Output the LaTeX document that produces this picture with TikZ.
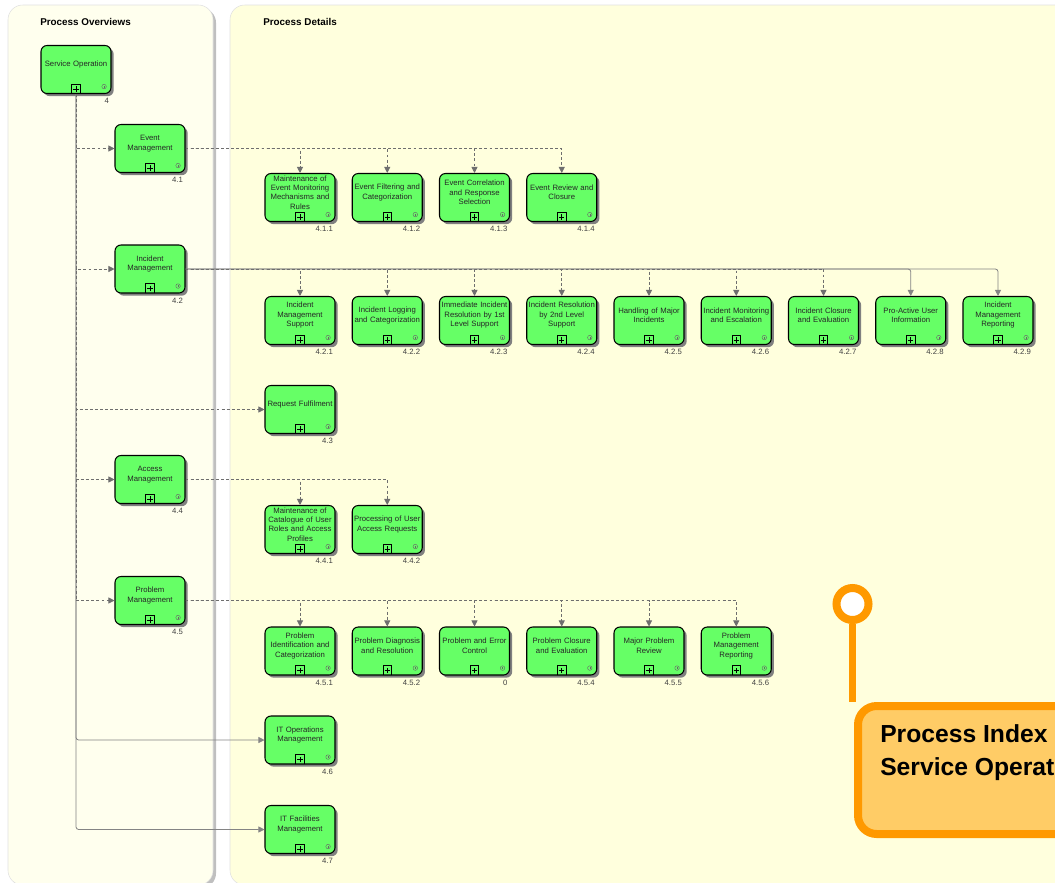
\documentclass[tikz,border=0pt]{standalone}
\usepackage{fontspec}
\setmainfont{Liberation Sans}
\usetikzlibrary{arrows.meta,shadows}

\definecolor{procgreen}{HTML}{66FF66}
\definecolor{laneA}{HTML}{FFFFEE}
\definecolor{laneB}{HTML}{FFFFDD}
\definecolor{flowgray}{HTML}{6E6E6E}
\definecolor{calledge}{HTML}{FF9900}
\definecolor{callfill}{HTML}{FFCC66}

\tikzset{
	proc/.style={draw, line width=.8pt, fill=procgreen, rounded corners=4.5pt,
		minimum width=52.5pt, minimum height=36pt, inner sep=0pt,
		drop shadow={shadow xshift=2pt,shadow yshift=-2pt,fill=black!50,opacity=1},
		path picture={
			\draw[sharp corners, line width=.6pt] ([xshift=-3.2pt]path picture bounding box.south) rectangle ([xshift=3.2pt,yshift=7pt]path picture bounding box.south);
			\draw[sharp corners, line width=.5pt] ([xshift=-2pt,yshift=3.5pt]path picture bounding box.south) -- ([xshift=2pt,yshift=3.5pt]path picture bounding box.south);
			\draw[sharp corners, line width=.5pt] ([yshift=1.5pt]path picture bounding box.south) -- ([yshift=5.5pt]path picture bounding box.south);
			\draw[black!60, line width=.3pt] ([xshift=-5.2pt,yshift=5.2pt]path picture bounding box.south east) circle (1.7pt);
			\draw[sharp corners, black!60, line width=.3pt] ([xshift=-5.2pt,yshift=4.4pt]path picture bounding box.south east) -- ([xshift=-5.2pt,yshift=6pt]path picture bounding box.south east);
		}},
	proctext/.style={font=\fontsize{5.8}{7.1}\selectfont, align=center, text width=58pt, inner sep=0pt, yshift=3.8pt, text=black!85},
	procnum/.style={font=\fontsize{5.8}{7}\selectfont, text=black!75, anchor=north east, inner sep=0pt, yshift=-3.2pt, xshift=-1.8pt},
	lanehead/.style={font=\fontsize{7.4}{9}\selectfont\bfseries, anchor=west, inner sep=0pt},
	flowdash/.style={draw=flowgray, line width=.6pt, dash pattern=on 2.2pt off 1.6pt, -{Triangle[length=4.5pt,width=4.5pt]}},
	flowsolid/.style={draw=flowgray!85, line width=.6pt, rounded corners=2pt, -{Triangle[length=4.5pt,width=4.5pt]}},
}

\begin{document}
\begin{tikzpicture}[x=0.75pt,y=-0.75pt]
	\useasboundingbox (0,0) rectangle (1055,882);
	\clip (0,0) rectangle (1055,882);

	% lanes
	\fill[black!25, rounded corners=11pt] (11,8) rectangle (216,888);
	\draw[black!12, fill=laneA, rounded corners=11pt] (8,5) rectangle (213,885);
	\draw[black!12, fill=laneB, rounded corners=11pt] (230,5) rectangle (1080,885);
	\node[lanehead] (ovhead) at (40,22) {Process Overviews};
	\node[lanehead] (dthead) at (263,22) {Process Details};

	% overview column
	\node[proc, label={[proctext]center:Service Operation}, label={[procnum]south east:4}] (so) at (76,69.5) {};
	\node[proc, label={[proctext]center:{Event\\Management}}, label={[procnum]south east:4.1}] (em) at (150,148.5) {};
	\node[proc, label={[proctext]center:{Incident\\Management}}, label={[procnum]south east:4.2}] (im) at (150,269) {};
	\node[proc, label={[proctext]center:Request Fulfilment}, label={[procnum]south east:4.3}] (rf) at (300,409.5) {};
	\node[proc, label={[proctext]center:{Access\\Management}}, label={[procnum]south east:4.4}] (am) at (150,479.5) {};
	\node[proc, label={[proctext]center:{Problem\\Management}}, label={[procnum]south east:4.5}] (pm) at (150,600.5) {};
	\node[proc, label={[proctext]center:{IT Operations\\Management}}, label={[procnum]south east:4.6}] (itops) at (300,740) {};
	\node[proc, label={[proctext]center:{IT Facilities\\Management}}, label={[procnum]south east:4.7}] (itfac) at (300,829.5) {};

	% event management
	\node[proc, label={[proctext]center:{Maintenance of\\Event Monitoring\\Mechanisms and\\Rules}}, label={[procnum]south east:4.1.1}] (d11) at (300,197.5) {};
	\node[proc, label={[proctext]center:{Event Filtering and\\Categorization}}, label={[procnum]south east:4.1.2}] (d12) at (387.25,197.5) {};
	\node[proc, label={[proctext]center:{Event Correlation\\and Response\\Selection}}, label={[procnum]south east:4.1.3}] (d13) at (474.5,197.5) {};
	\node[proc, label={[proctext]center:{Event Review and\\Closure}}, label={[procnum]south east:4.1.4}] (d14) at (561.75,197.5) {};

	% incident management
	\node[proc, label={[proctext]center:{Incident\\Management\\Support}}, label={[procnum]south east:4.2.1}] (d21) at (300,320.5) {};
	\node[proc, label={[proctext]center:{Incident Logging\\and Categorization}}, label={[procnum]south east:4.2.2}] (d22) at (387.25,320.5) {};
	\node[proc, label={[proctext]center:{Immediate Incident\\Resolution by 1st\\Level Support}}, label={[procnum]south east:4.2.3}] (d23) at (474.5,320.5) {};
	\node[proc, label={[proctext]center:{Incident Resolution\\by 2nd Level\\Support}}, label={[procnum]south east:4.2.4}] (d24) at (561.75,320.5) {};
	\node[proc, label={[proctext]center:{Handling of Major\\Incidents}}, label={[procnum]south east:4.2.5}] (d25) at (649,320.5) {};
	\node[proc, label={[proctext]center:{Incident Monitoring\\and Escalation}}, label={[procnum]south east:4.2.6}] (d26) at (736.25,320.5) {};
	\node[proc, label={[proctext]center:{Incident Closure\\and Evaluation}}, label={[procnum]south east:4.2.7}] (d27) at (823.5,320.5) {};
	\node[proc, label={[proctext]center:{Pro-Active User\\Information}}, label={[procnum]south east:4.2.8}] (d28) at (910.75,320.5) {};
	\node[proc, label={[proctext]center:{Incident\\Management\\Reporting}}, label={[procnum]south east:4.2.9}] (d29) at (998,320.5) {};

	% access management
	\node[proc, label={[proctext]center:{Maintenance of\\Catalogue of User\\Roles and Access\\Profiles}}, label={[procnum]south east:4.4.1}] (d41) at (300,529.5) {};
	\node[proc, label={[proctext]center:{Processing of User\\Access Requests}}, label={[procnum]south east:4.4.2}] (d42) at (387.25,529.5) {};

	% problem management
	\node[proc, label={[proctext]center:{Problem\\Identification and\\Categorization}}, label={[procnum]south east:4.5.1}] (d51) at (300,651) {};
	\node[proc, label={[proctext]center:{Problem Diagnosis\\and Resolution}}, label={[procnum]south east:4.5.2}] (d52) at (387.25,651) {};
	\node[proc, label={[proctext]center:{Problem and Error\\Control}}, label={[procnum]south east:0}] (d53) at (474.5,651) {};
	\node[proc, label={[proctext]center:{Problem Closure\\and Evaluation}}, label={[procnum]south east:4.5.4}] (d54) at (561.75,651) {};
	\node[proc, label={[proctext]center:{Major Problem\\Review}}, label={[procnum]south east:4.5.5}] (d55) at (649,651) {};
	\node[proc, label={[proctext]center:{Problem\\Management\\Reporting}}, label={[procnum]south east:4.5.6}] (d56) at (736.25,651) {};

	% connectors
	\draw[flowsolid] (so.south) |- (itops.west);
	\draw[flowsolid] (so.south) |- (itfac.west);
	\foreach \t in {em,im,rf,am,pm}
		\draw[flowdash] (so.south) |- (\t.west);
	\draw[flowsolid] (im.east) -| (d28.north);
	\draw[flowsolid] (im.east) -| (d29.north);
	\foreach \t in {d21,d22,d23,d24,d25,d26,d27}
		\draw[flowdash] (im.east) -| (\t.north);
	\foreach \t in {d11,d12,d13,d14}
		\draw[flowdash] (em.east) -| (\t.north);
	\foreach \t in {d41,d42}
		\draw[flowdash] (am.east) -| (\t.north);
	\foreach \t in {d51,d52,d53,d54,d55,d56}
		\draw[flowdash] (pm.east) -| (\t.north);

	% callout
	\node[circle, draw=calledge, line width=6pt, fill=white, minimum size=24pt, inner sep=0pt] (pin) at (852.5,604) {};
	\node[draw=calledge, line width=6pt, fill=callfill, rounded corners=14pt, anchor=north west,
		minimum width=200pt, minimum height=96pt, inner sep=0pt,
		label={[font=\fontsize{18.5}{24.75}\selectfont\bfseries, align=left, anchor=north west, inner sep=0pt, xshift=19.5pt, yshift=-17pt]north west:{Process Index\\Service Operation}}] (idx) at (854,702) {};
	\draw[calledge, line width=5.25pt] (pin.south) -- (pin.south |- idx.north);
\end{tikzpicture}
\end{document}
